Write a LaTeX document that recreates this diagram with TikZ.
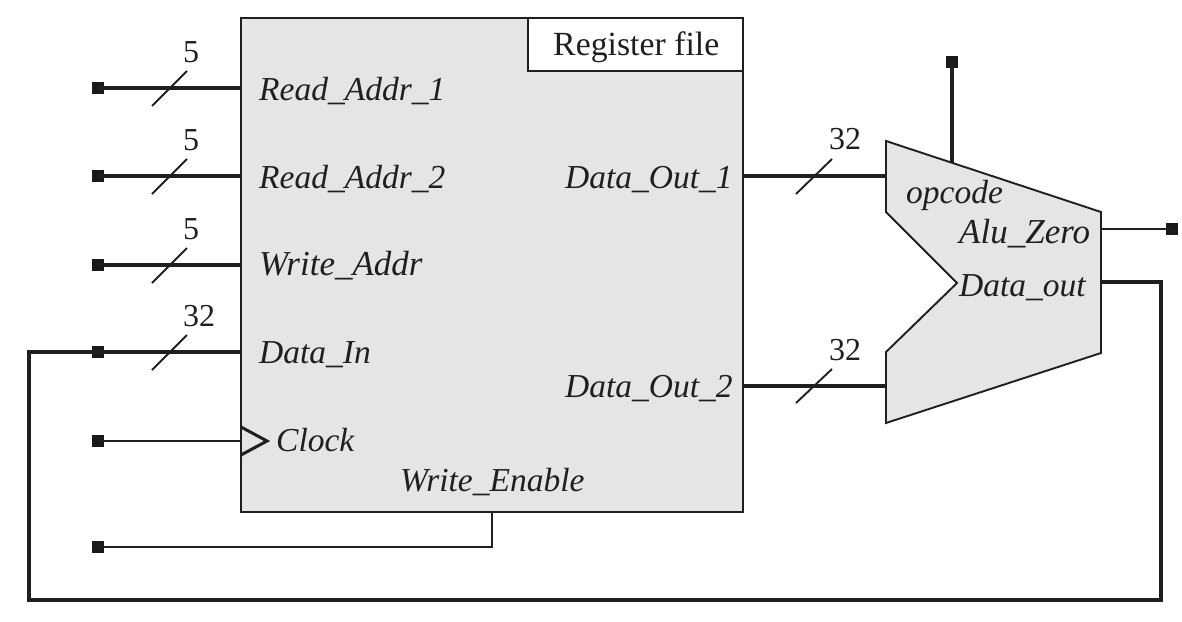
\documentclass[tikz,border=0pt]{standalone}
\usepackage{fontspec}
\setmainfont{Liberation Serif}
\begin{document}
\begin{tikzpicture}[x=1pt,y=-1pt,
  ink/.style={draw=black!88},
  blockshape/.style={ink,line width=1.9pt,fill=black!10,line join=miter},
  termsq/.style={rectangle,fill=black!90,draw=none,minimum size=12pt,inner sep=0pt},
  pin/.style={font=\fontsize{33.5}{36}\selectfont\itshape,anchor=base west,inner sep=0pt,text=black!88},
  pinwide/.style={pin,font=\fontsize{35}{38}\selectfont\itshape},
  num/.style={font=\fontsize{32}{34}\selectfont,anchor=base,inner sep=0pt,text=black!88},
  bus/.style={ink,line width=4pt},
  ctrl/.style={ink,line width=2pt},
  tick/.style={ink,line width=1.9pt}]
\useasboundingbox (0,0) rectangle (1182,621);
% register file
\node[blockshape,rectangle,minimum width=502pt,minimum height=494pt,inner sep=0pt,outer sep=0pt] (rf) at (492,265) {};
\node[blockshape,fill=white,rectangle,minimum width=215pt,minimum height=53pt,inner sep=0pt,outer sep=0pt] (rfbox) at (635.5,44.5) {};
\node[font=\fontsize{33.8}{36}\selectfont,anchor=base west,inner sep=0pt,text=black!88] (rftitle) at (553,55) {Register file};
% ALU
\draw[blockshape] (886,141) -- (1101,212) -- (1101,353) -- (886,423) -- (886,352) -- (957,283) -- (886,212) -- cycle;
% pin coordinates
\coordinate (p1) at (241,88);
\coordinate (p2) at (241,176);
\coordinate (p3) at (241,265);
\coordinate (p4) at (241,352);
\coordinate (p5) at (241,441);
\coordinate (p6) at (492,512);
\coordinate (p6b) at (492,547);
\coordinate (o1) at (743,176);
\coordinate (o2) at (743,386);
\coordinate (a1) at (886,176);
\coordinate (a2) at (886,386);
\coordinate (aop) at (952,163);
\coordinate (az) at (1101,229);
\coordinate (ad) at (1101,282);
\coordinate (c1) at (1161,282);
\coordinate (c2) at (1161,600);
\coordinate (c3) at (29,600);
\coordinate (c4) at (29,352);
% terminals
\node[termsq] (t1) at (98,88) {};
\node[termsq] (t2) at (98,176) {};
\node[termsq] (t3) at (98,265) {};
\node[termsq] (t4) at (98,352) {};
\node[termsq] (t5) at (98,441) {};
\node[termsq] (t6) at (98,547) {};
\node[termsq] (t7) at (952,62) {};
\node[termsq] (t8) at (1172,229) {};
% wires
\draw[bus] (t1.center) -- (p1);
\draw[bus] (t2.center) -- (p2);
\draw[bus] (t3.center) -- (p3);
\draw[bus,line join=miter] (ad) -- (c1) -- (c2) -- (c3) -- (c4) -- (p4);
\draw[ctrl] (t5.center) -- (p5);
\draw[ctrl,line join=miter] (t6.center) -- (p6b) -- (p6);
\draw[bus] (o1) -- (a1);
\draw[bus] (o2) -- (a2);
\draw[bus] (t7.center) -- (aop);
\draw[ctrl] (az) -- (t8.center);
% clock wedge
\draw[ink,line width=3pt,line join=miter] (241,427) -- (267,441) -- (241,455);
% bus ticks
\draw[tick] (152,106) -- (187,71);
\draw[tick] (152,194) -- (187,159);
\draw[tick] (152,283) -- (187,248);
\draw[tick] (152,370) -- (187,335);
\draw[tick] (796,194) -- (832,159);
\draw[tick] (796,403) -- (832,369);
% widths
\node[num] (n1) at (191,62) {5};
\node[num] (n2) at (191,150) {5};
\node[num] (n3) at (191,239) {5};
\node[num] (n4) at (199,326) {32};
\node[num] (n5) at (845,149) {32};
\node[num] (n6) at (845,360) {32};
% pin labels
\node[pin] (l1) at (259,100) {Read\_Addr\_1};
\node[pin] (l2) at (259,188) {Read\_Addr\_2};
\node[pinwide] (l3) at (259,275) {Write\_Addr};
\node[pin] (l4) at (259,363) {Data\_In};
\node[pin] (l5) at (276,451) {Clock};
\node[pin] (l6) at (400,491) {Write\_Enable};
\node[pin] (l7) at (565,188) {Data\_Out\_1};
\node[pin] (l8) at (565,397) {Data\_Out\_2};
\node[pin] (l9) at (906,203) {opcode};
\node[pinwide] (l10) at (959,243) {Alu\_Zero};
\node[pin] (l11) at (959,296) {Data\_out};
\end{tikzpicture}
\end{document}
